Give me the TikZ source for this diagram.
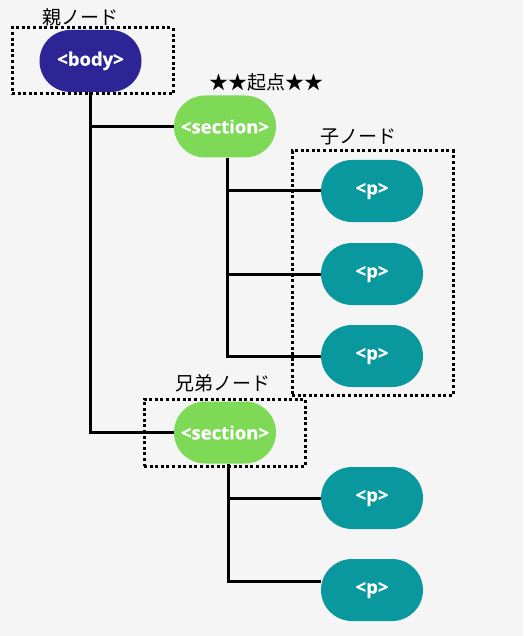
\documentclass[tikz,border=0pt]{standalone}
\usepackage{fontspec}
\setmainfont{Open Sans}
\newfontfamily\nodefont{Open Sans}[BoldFeatures={FakeBold=0.4}]
\newfontfamily\jpfont{Noto Sans CJK JP}
\usetikzlibrary{calc}
\definecolor{bgc}{HTML}{F5F5F5}
\definecolor{bodyc}{HTML}{2D2596}
\definecolor{secc}{HTML}{7ED957}
\definecolor{pc}{HTML}{08989D}
\begin{document}
\begin{tikzpicture}[x=1pt,y=-1pt,
  pill/.style={rectangle, rounded corners=31pt, minimum width=102pt, minimum height=62pt, inner sep=0pt, text=white, font=\nodefont\fontsize{18.5}{22}\selectfont\bfseries},
  bodypill/.style={pill, fill=bodyc},
  secpill/.style={pill, fill=secc},
  ppill/.style={pill, fill=pc},
  dotbox/.style={draw=black, line width=3pt, dash pattern=on 3pt off 2.6pt, rectangle, inner sep=0pt},
  lbl/.style={font=\jpfont\fontsize{19}{22}\selectfont, text=black, inner sep=0pt},
  conn/.style={draw=black, line width=3pt}]
\fill[bgc] (0,0) rectangle (523,636);
\useasboundingbox (0,0) rectangle (523,636);

\node[dotbox, minimum width=161pt, minimum height=66pt] (boxparent) at (92.5,61) {};
\node[dotbox, minimum width=161pt, minimum height=244pt] (boxchild) at (372.5,273) {};
\node[dotbox, minimum width=161pt, minimum height=67pt] (boxsib) at (224.5,432.5) {};

\node[lbl] (lparent) at (80,17) {親ノード};
\node[lbl] (lstart) at (266,82) {★★起点★★};
\node[lbl] (lchild) at (358,137) {子ノード};
\node[lbl] (lsib) at (223,383) {兄弟ノード};

\node[bodypill] (body) at (90.5,61) {<body>};
\node[secpill] (s1) at (225,126.5) {<section>};
\node[secpill] (s2) at (225,432.5) {<section>};
\node[ppill] (p1) at (372,191) {<p>};
\node[ppill] (p2) at (372,274) {<p>};
\node[ppill] (p3) at (372,356) {<p>};
\node[ppill] (p4) at (372,498) {<p>};
\node[ppill] (p5) at (372,590) {<p>};

\coordinate (p5in) at ($(p5.west)+(0,-9)$);
\coordinate (b0) at ($(body.south)+(-0.5,0)$);
\coordinate (s10) at ($(s1.south)+(2,0)$);
\coordinate (s20) at ($(s2.south)+(3,0)$);

\draw[conn] (b0) |- (s2.west);
\draw[conn] (b0 |- s1.west) -- (s1.west);
\draw[conn] (s10) |- (p3.west);
\draw[conn] (s10 |- p1.west) -- (p1.west);
\draw[conn] (s10 |- p2.west) -- (p2.west);
\draw[conn] (s20) |- (p5in);
\draw[conn] (s20 |- p4.west) -- (p4.west);
\end{tikzpicture}
\end{document}
